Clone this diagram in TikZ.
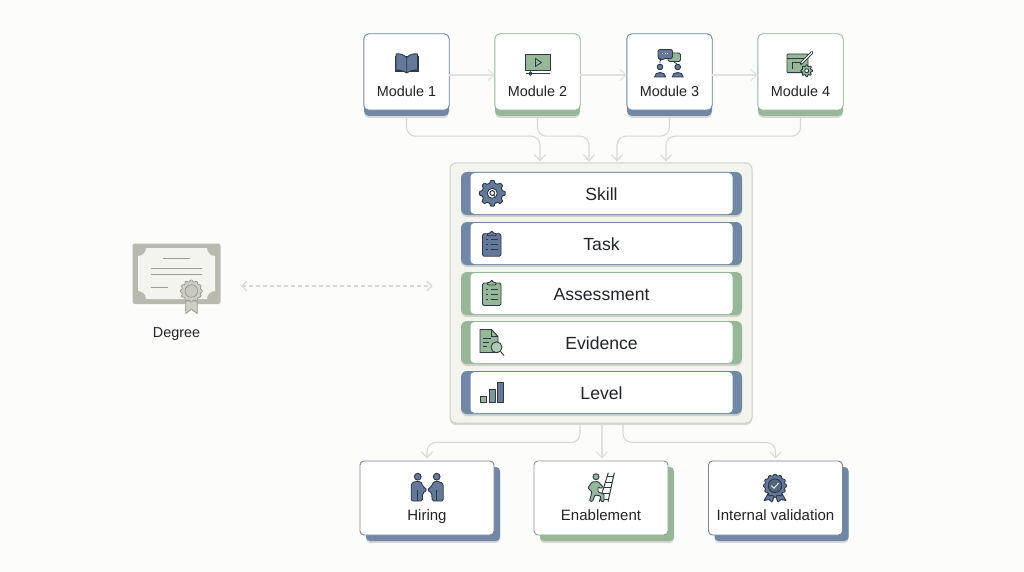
\documentclass[tikz,border=0pt]{standalone}
\usepackage{fontspec}
\setmainfont{Liberation Sans}
\usetikzlibrary{arrows.meta}
\usetikzlibrary{shadows}
\usetikzlibrary{calc}
\definecolor{slateDeco}{HTML}{7087A6}
\definecolor{slateIcon}{HTML}{64799A}
\definecolor{sageDeco}{HTML}{96B899}
\definecolor{inkDark}{HTML}{2E3844}
\definecolor{textDark}{HTML}{1F2429}
\definecolor{linkGrey}{HTML}{D5D9D4}
\definecolor{paperBack}{HTML}{FCFCFA}
\definecolor{panelFill}{HTML}{F4F4EF}
\definecolor{panelEdge}{HTML}{CFCFC6}
\definecolor{certDark}{HTML}{BAB9AF}
\definecolor{certEdge}{HTML}{9C9B90}
\newcommand{\gearIcon}[5]{%
  \draw[iconLine,fill=#3,rounded corners=.6pt] ($(#1)+(360/#4-.31*360/#4:#2*#5)$)
  \foreach \k in {1,...,#4}{
    -- ($(#1)+(\k*360/#4-.31*360/#4:#2*#5)$)
    -- ($(#1)+(\k*360/#4-.18*360/#4:#2)$)
    -- ($(#1)+(\k*360/#4+.18*360/#4:#2)$)
    -- ($(#1)+(\k*360/#4+.31*360/#4:#2*#5)$)
  } -- cycle;
}

\begin{document}
\begin{tikzpicture}
[x=1pt,y=-1pt,%
  iconLine/.style={draw=inkDark,line width=0.9pt,line join=round},%
  softShadow/.style={drop shadow={shadow xshift=0pt,shadow yshift=-2pt,opacity=0.14,fill=black}},%
  linkLine/.style={draw=linkGrey,line width=1.1pt,rounded corners=9pt,-{Straight Barb[length=6pt,width=11pt]}},%
  paleLine/.style={linkLine,draw=linkGrey!75!white},%
  dashLink/.style={draw=linkGrey,line width=1.1pt,dash pattern=on 4pt off 3pt,{Straight Barb[length=5pt,width=10pt]}-{Straight Barb[length=5pt,width=10pt]}},%
  moduleCard/.style={rectangle,rounded corners=5pt,minimum width=85pt,minimum height=82pt,inner sep=0pt,softShadow},%
  rowBack/.style={rectangle,rounded corners=6pt,minimum width=281pt,minimum height=43pt,inner sep=0pt,softShadow},%
  rowFace/.style={rectangle,rounded corners=4pt,fill=white,minimum width=262pt,minimum height=41pt,inner sep=0pt,text height=14pt,text depth=0pt,font=\fontsize{17.6}{20}\selectfont,text=textDark},%
  outBack/.style={rectangle,rounded corners=4pt,minimum width=134pt,minimum height=74pt,inner sep=0pt,softShadow},%
  outFace/.style={rectangle,rounded corners=4pt,fill=white,line width=0.9pt,minimum width=134pt,minimum height=74pt,inner sep=0pt},%
  cardText/.style={font=\fontsize{14.4}{16}\selectfont,text=textDark,inner sep=0pt,text height=10.5pt,text depth=3pt},%
  outText/.style={cardText,font=\fontsize{15}{17}\selectfont}]
\useasboundingbox (0,0) rectangle (1024,572);
\fill[paperBack] (0,0) rectangle (1024,572);
%% panel and its rows
\node[rectangle,rounded corners=6pt,fill=panelFill,draw=panelEdge,line width=1pt,minimum width=302pt,minimum height=260pt,softShadow] (panel) at (601,293) {};
\foreach \rowname/\y/\col/\txt in {
  skill/193.5/slateDeco/Skill, task/243.5/slateDeco/Task,
  assess/293.5/sageDeco/Assessment, evid/342.5/sageDeco/Evidence,
  level/392.5/slateDeco/Level}
{
  \node[rowBack,fill=\col] (\rowname) at (601.5,\y) {};
  \node[rowFace] (\rowname Face) at (601.5,\y) {\txt};
}
%% module cards
\foreach \nodename/\x/\col/\txt in {
  m1/406.5/slateDeco/Module 1, m2/537.5/sageDeco/Module 2,
  m3/669.5/slateDeco/Module 3, m4/800.5/sageDeco/Module 4}
{
  \node[moduleCard,fill=\col] (\nodename) at (\x,75) {};
  \fill[white,rounded corners=5pt] (\nodename.north west) rectangle ([yshift=6pt]\nodename.south east);
  \draw[\col,line width=0.9pt,rounded corners=5pt] (\nodename.north west) rectangle ([yshift=6pt]\nodename.south east);
  \node[cardText] (\nodename Text) at (\x,93.25) {\txt};
}
%% outcome cards
\foreach \nodename/\x/\col/\txt in {
  o1/427/slateDeco/Hiring, o2/601/sageDeco/Enablement,
  o3/775.5/slateDeco/Internal validation}
{
  \node[outBack,fill=\col,xshift=6pt,yshift=-6pt] (\nodename Back) at (\x,498) {};
  \node[outFace,draw=\col!50!gray] (\nodename) at (\x,498) {};
  \node[outText] (\nodename Text) at (\x,516.5) {\txt};
}
%% degree
\node[rectangle,minimum width=64pt,minimum height=86pt,outer sep=0pt,inner sep=0pt] (degree) at (209,286) {};
\fill[certDark,rounded corners=2.5pt] (132.5,243.5) rectangle (220.5,304);
\fill[panelFill] (146,248) -- (207,248) arc[start angle=180,end angle=270,radius=8pt] -- (215,291) arc[start angle=90,end angle=180,radius=8pt] -- (146,299) arc[start angle=0,end angle=90,radius=8pt] -- (138,256) arc[start angle=270,end angle=360,radius=8pt] -- cycle;
\draw[certEdge,line width=0.9pt] (163,258.7) -- (190,258.7) (151,268.7) -- (201.7,268.7) (151,274.7) -- (201.7,274.7) (151,287) -- (168,287);
\draw[certEdge,fill=panelEdge,line width=0.8pt,line join=round] (185.7,301) -- (185.7,313.5) -- (191.3,309.3) -- (197.3,313.5) -- (197.3,301) -- cycle;
\begin{scope}[iconLine/.style={draw=certEdge,line width=0.8pt}]
  \gearIcon{191.3,291}{11}{panelEdge}{12}{0.86}
\end{scope}
\draw[certEdge,fill=panelEdge!70!certDark,line width=0.8pt] (191.3,291) circle[radius=6.3pt];
\node[cardText] (degreeText) at (176.5,334) {Degree};
%% connect everything
\foreach \i/\j in {1/2,2/3,3/4}
{
  \draw[paleLine] (m\i.east) -- (m\j.west);
}
\foreach \i/\dx in {1/-61,2/-12,3/16,4/65}
{
  \coordinate (in\i) at ([xshift=\dx pt,yshift=1pt]panel.north);
  \draw[linkLine] (m\i.south) -- ++(0,20) -| (in\i);
}
\foreach \i/\dx in {1/-21,2/1,3/22}
{
  \coordinate (out\i) at ([xshift=\dx pt]panel.south);
}
\draw[linkLine,shorten >=2pt] (out1) -- ++(0,19) -| (o1.north);
\draw[paleLine,shorten >=2pt] (out2) -- (o2.north -| out2);
\draw[linkLine,shorten >=2pt] (out3) -- ++(0,19) -| (o3.north);
\draw[dashLink,shorten >=17pt] (degree.east) -- (degree.east -| panel.west);
%% module icons
\fill[inkDark] (394.5,56) rectangle (419,72.5);
\draw[iconLine,fill=slateIcon] (406.7,57.5) .. controls (403,54) and (399,53.5) .. (396,54) -- (396,70) .. controls (400,70) and (403,70.5) .. (406.7,73) .. controls (410,70.5) and (414,70) .. (417.5,70) -- (417.5,54) .. controls (414,53.5) and (410,54) .. (406.7,57.5) -- (406.7,73);
\draw[iconLine,fill=sageDeco] (525.7,54.5) rectangle (550,70.5);
\draw[inkDark,line width=0.8pt,line join=round] (535.5,58.5) -- (541.5,62.5) -- (535.5,66.5) -- cycle;
\draw[inkDark,line width=0.8pt,fill=white] (526,73.5) -- (550,73.5) (530.5,73.5) circle[radius=1.7pt];
\draw[iconLine,fill=sageDeco,rounded corners=1.5pt] (668,53) rectangle (680.5,61.5);
\draw[iconLine,fill=slateIcon,rounded corners=2pt] (658,49.5) -- (672.5,49.5) -- (672.5,58.5) -- (663,58.5) -- (660.5,61) -- (660.5,58.5) -- (658,58.5) -- cycle;
\draw[white,line width=1pt,dash pattern=on 1pt off 1.5pt] (662,54) -- (669,54);
\draw[inkDark,line width=0.7pt] (660,61) -- (660,63.5) (674,62) -- (677,64);
\foreach \x in {660,677.7}
{
  \draw[iconLine,fill=slateIcon] (\x,67) circle[radius=2.8pt];
  \draw[iconLine,fill=slateIcon] (\x-5.5,77) .. controls (\x-5.5,71) and (\x+5.5,71) .. (\x+5.5,77) -- cycle;
}
\draw[iconLine,fill=sageDeco,rounded corners=1pt] (787,54) rectangle (808,72.7);
\draw[iconLine] (787,58) -- (808,58);
\draw[inkDark,line width=0.8pt] (792,62) -- (792,69) (792,62) -- (801,62);
\draw[inkDark,line width=3pt,line cap=round] (801,63.5) -- (812,52.5);
\draw[panelFill,line width=1.2pt] (801.5,63) -- (812,52.5);
\gearIcon{806.7,70.7}{6}{sageDeco}{8}{0.72}
\draw[iconLine,fill=white] (806.7,70.7) circle[radius=2pt];
%% panel icons
\gearIcon{492.3,193.3}{13}{slateIcon}{8}{0.8}
\draw[iconLine,fill=white] (492.3,193.3) circle[radius=5pt];
\draw[inkDark,line width=1pt] (492.3,193) circle[radius=2.4pt] (493.3,194.5) -- (495,196.5);
\foreach \y/\col in {230.7/slateIcon,280/sageDeco}
{
  \draw[iconLine,fill=\col,rounded corners=1.5pt] (482.5,\y+3) rectangle (501,\y+25.5);
  \draw[iconLine,fill=\col,rounded corners=.8pt] (487.5,\y+5) -- (487.5,\y+2.5) -- (490,\y+2.5) -- (491.7,\y) -- (493.5,\y+2.5) -- (496,\y+2.5) -- (496,\y+5) -- cycle;
  \foreach \dy in {9,14,19}
  {
    \draw[inkDark,line width=0.8pt] (486,\y+\dy) -- (488,\y+\dy) (490.5,\y+\dy) -- (498,\y+\dy);
  }
}
\draw[iconLine,fill=sageDeco] (480,329.5) -- (491.5,329.5) -- (498,336.5) -- (498,352.5) -- (480,352.5) -- cycle;
\draw[iconLine] (491.5,329.5) -- (491.5,336.5) -- (498,336.5);
\draw[inkDark,line width=0.8pt] (483,338) -- (491,338) (483,342) -- (489,342) (483,346) -- (487,346);
\draw[inkDark,line width=0.9pt] (500.5,351.5) -- (504,355.5);
\draw[iconLine,fill=sageDeco!70!panelFill] (496.5,347.3) circle[radius=5.5pt];
\draw[iconLine,fill=sageDeco] (480.7,396) rectangle (486.7,402.7);
\draw[iconLine,fill=sageDeco!50!slateIcon] (489,389.3) rectangle (495,402.7);
\draw[iconLine,fill=slateIcon] (497.3,382.3) rectangle (503.3,402.7);
%% outcome icons
\foreach \x/\dir in {417.7/1,436.7/-1}
{
  \draw[iconLine,fill=slateIcon] (\x,476.7) circle[radius=3.4pt];
  \draw[iconLine,fill=slateIcon,rounded corners=1.5pt] (\x-\dir*6.5,501) -- (\x-\dir*6.5,484) -- (\x-\dir*3,481.5) -- (\x+\dir*3,481.5) -- (\x+\dir*5,486) -- (427.2,490) -- (\x+\dir*5,493) -- (\x+\dir*4.5,501) -- cycle;
  \draw[inkDark,line width=0.8pt] (\x,490) -- (\x,501);
}
\draw[inkDark,line width=1pt] (608.3,472.7) -- (599.3,501.7) (614.3,472.7) -- (608,501.7);
\foreach \t in {0.12,0.32,0.52,0.72,0.92}
{
  \draw[inkDark,line width=0.9pt] ($(608.3,472.7)!\t!(599.3,501.7)$) -- ($(614.3,472.7)!\t!(608,501.7)$);
}
\draw[iconLine,fill=sageDeco] (596,476.7) circle[radius=3pt];
\draw[iconLine,fill=sageDeco,rounded corners=1pt] (592,482) -- (598,481.5) -- (603,487) -- (601,488.5) -- (598,487) -- (598,492) -- (604,494) -- (604,501.5) -- (601,501.5) -- (600.5,496) -- (595,495) -- (592.5,501.5) -- (589.5,501) -- (592,492) -- (588,488) -- cycle;
\draw[iconLine,fill=slateIcon] (768.5,493) -- (764,500.5) -- (769,499.5) -- (772,502) -- (775,495) -- (778,502) -- (781,499.5) -- (786,500.5) -- (781.5,493) -- cycle;
\gearIcon{775,485.7}{11.5}{slateIcon}{12}{0.88}
\draw[iconLine,fill=slateIcon!70!inkDark] (775,485.7) circle[radius=6.8pt];
\draw[panelFill,line width=0.9pt] (771.5,485.7) -- (774,488.2) -- (778.7,483);
\end{tikzpicture}
\end{document}
